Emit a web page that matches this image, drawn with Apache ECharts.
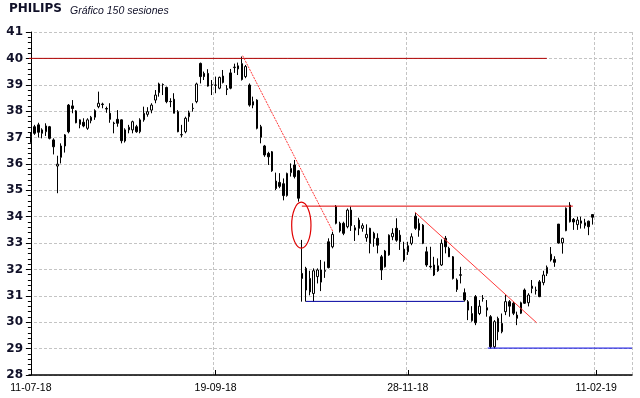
<!DOCTYPE html>
<html>
<head>
<meta charset="utf-8">
<title>PHILIPS</title>
<script src="https://cdn.jsdelivr.net/npm/echarts@6/dist/echarts.min.js"></script>
<style>
  html, body { margin: 0; padding: 0; background: #fff; }
  #chart { width: 640px; height: 398px; }
</style>
</head>
<body>
<div id="chart"></div>
<script>
// 150 sesiones, [apertura, cierre, mínimo, máximo]
const ohlc = [
  [37.03, 37.13, 36.80, 37.20], [37.41, 37.16, 37.10, 37.48], [37.48, 37.20, 37.00, 37.56],
  [37.16, 37.29, 36.97, 37.35], [37.22, 37.44, 37.06, 37.54], [37.41, 36.97, 36.93, 37.44],
  [36.91, 36.65, 36.36, 36.97], [35.92, 35.99, 34.89, 36.31], [36.25, 36.68, 36.02, 36.78],
  [36.68, 37.10, 36.43, 37.13], [38.23, 37.22, 37.16, 38.27], [38.20, 38.10, 37.92, 38.42],
  [38.01, 37.56, 37.54, 38.04], [37.67, 37.50, 37.35, 37.69], [37.58, 37.44, 37.39, 37.73],
  [37.35, 37.67, 37.29, 37.73], [37.64, 37.77, 37.54, 37.82], [37.77, 38.02, 37.67, 38.07],
  [38.17, 38.30, 38.11, 38.74], [38.27, 38.25, 38.11, 38.32], [38.10, 38.08, 37.94, 38.17],
  [37.92, 37.69, 37.56, 38.30], [37.55, 37.53, 37.16, 37.60], [37.69, 37.54, 37.41, 38.04],
  [37.67, 36.88, 36.78, 37.69], [36.87, 37.29, 36.81, 37.35], [37.29, 37.39, 37.16, 37.48],
  [37.29, 37.60, 37.16, 37.64], [37.41, 37.22, 37.18, 37.48], [37.22, 37.67, 37.16, 37.73],
  [37.67, 37.92, 37.60, 38.17], [37.88, 37.98, 37.79, 38.15], [38.04, 38.23, 37.92, 38.30],
  [38.42, 38.61, 38.30, 38.80], [38.70, 39.03, 38.55, 39.08], [39.01, 39.00, 38.61, 39.05],
  [38.90, 38.36, 38.30, 38.93], [38.37, 38.36, 38.15, 38.49], [38.45, 37.92, 37.92, 38.68],
  [37.98, 37.22, 37.20, 38.04], [37.11, 37.10, 37.01, 37.48], [37.22, 37.73, 37.16, 37.79],
  [37.79, 37.94, 37.60, 38.02], [38.10, 38.11, 37.98, 38.30], [38.36, 39.03, 38.30, 39.08],
  [39.81, 39.31, 39.05, 39.84], [39.43, 39.31, 39.18, 39.50], [39.43, 38.95, 38.93, 39.59],
  [39.00, 38.99, 38.61, 39.18], [38.98, 38.99, 38.68, 39.31], [38.87, 39.28, 38.83, 39.31],
  [39.33, 39.09, 39.05, 39.56], [38.85, 38.82, 38.61, 38.99], [39.45, 38.87, 38.83, 39.60],
  [39.65, 39.67, 39.45, 39.80], [39.60, 39.72, 39.37, 39.84], [39.80, 39.20, 39.16, 40.07],
  [39.31, 39.69, 39.25, 39.75], [38.99, 38.23, 38.17, 39.05], [38.23, 38.36, 38.11, 38.55],
  [38.42, 37.35, 37.31, 38.45], [37.41, 37.01, 36.78, 37.48], [36.68, 36.34, 36.27, 36.72],
  [36.40, 36.27, 35.96, 36.46], [36.46, 35.74, 35.70, 36.49], [35.35, 35.07, 35.01, 35.67],
  [35.30, 35.15, 35.08, 35.65], [35.25, 34.80, 34.62, 35.45], [34.80, 35.64, 34.76, 35.67],
  [35.67, 35.83, 35.52, 36.02], [35.96, 35.52, 35.45, 36.15], [35.74, 34.70, 34.57, 35.77],
  [31.85, 31.66, 30.78, 33.12], [32.04, 31.22, 30.78, 32.10], [31.66, 31.15, 31.02, 31.95],
  [31.09, 31.95, 30.78, 32.04], [31.73, 31.98, 31.47, 32.04], [31.52, 31.98, 31.18, 32.36],
  [31.93, 31.96, 31.68, 32.30], [33.05, 32.07, 32.04, 33.18], [32.86, 33.33, 32.80, 33.43],
  [34.38, 33.75, 33.71, 34.44], [33.75, 33.46, 33.40, 33.81], [33.75, 33.37, 33.30, 33.81],
  [33.62, 34.25, 33.56, 34.31], [34.25, 33.66, 33.46, 34.38], [33.49, 33.58, 33.08, 33.68],
  [33.87, 33.56, 33.30, 33.96], [33.56, 33.66, 33.43, 33.75], [33.20, 33.33, 33.05, 33.71],
  [33.56, 32.99, 32.61, 33.58], [33.37, 33.18, 32.86, 33.43], [33.18, 32.92, 32.61, 33.37],
  [32.48, 31.98, 31.60, 32.55], [32.10, 32.70, 32.07, 32.74], [32.55, 33.30, 32.52, 33.33],
  [33.24, 33.37, 33.11, 33.56], [33.56, 33.11, 33.05, 33.94], [33.30, 33.05, 32.74, 33.49],
  [32.77, 32.36, 32.29, 33.05], [32.67, 32.90, 32.55, 33.05], [32.99, 33.24, 32.92, 33.37],
  [34.02, 33.56, 33.50, 34.15], [33.49, 33.75, 33.24, 33.93], [33.68, 32.99, 32.96, 33.72],
  [32.67, 32.17, 32.10, 32.86], [32.12, 32.10, 32.04, 32.86], [32.17, 31.79, 31.75, 32.48],
  [31.95, 32.14, 31.91, 32.42], [32.17, 32.99, 32.13, 33.14], [33.18, 32.86, 32.61, 33.27],
  [32.80, 32.48, 32.48, 32.86], [32.48, 31.66, 31.62, 32.51], [31.24, 31.60, 31.15, 31.66],
  [31.80, 31.78, 31.47, 32.10], [31.12, 30.84, 30.78, 31.28], [30.78, 30.46, 30.08, 30.84],
  [30.06, 30.33, 30.02, 30.61], [30.97, 29.98, 29.89, 31.03], [30.33, 30.61, 30.27, 30.84],
  [30.91, 30.90, 30.78, 31.03], [30.46, 30.55, 30.21, 30.84], [30.21, 29.07, 29.01, 30.27],
  [29.07, 30.02, 29.01, 30.08], [30.14, 29.64, 29.32, 30.21], [29.64, 29.96, 29.58, 30.33],
  [30.40, 30.78, 30.27, 31.03], [30.78, 30.61, 30.21, 30.84], [30.72, 30.34, 30.27, 30.78],
  [30.27, 30.15, 29.89, 30.40], [30.34, 30.74, 30.31, 30.78], [31.22, 30.72, 30.69, 31.28],
  [30.74, 31.03, 30.60, 31.10], [31.28, 31.37, 31.10, 31.60], [31.20, 31.22, 31.05, 31.35],
  [31.53, 30.97, 30.95, 31.60], [31.50, 31.79, 31.40, 31.95], [31.85, 32.08, 31.75, 32.15],
  [32.36, 32.58, 32.30, 32.85], [32.38, 32.27, 32.10, 32.50], [33.72, 33.00, 32.98, 33.72],
  [33.01, 33.18, 32.60, 33.20], [33.47, 34.32, 33.45, 34.35], [34.44, 33.81, 33.78, 34.55],
  [33.90, 33.80, 33.50, 33.95], [33.70, 33.87, 33.50, 34.00], [33.75, 33.84, 33.55, 34.00],
  [33.66, 33.77, 33.55, 33.92], [33.83, 33.62, 33.30, 33.85], [34.08, 33.98, 33.70, 34.08]
];

// eje de sesiones: 150 con datos + hueco a la derecha
const totalSlots = 160;
const sessions = [];
for (let i = 0; i < totalSlots; i++) sessions.push('s' + i);
const tickLabels = { 0: '11-07-18', 49: '19-09-18', 100: '28-11-18', 150: '11-02-19' };

// líneas de análisis, x en sesiones (fraccionales), y en euros
const resistance40 = [[-0.5, 40], [136.9, 40]];
const trendFromTop = [[56.2, 40.1], [80.2, 33.42]];
const resistance344 = [[71.9, 34.4], [143.8, 34.4]];
const trendSecond = [[101.9, 34.17], [134.2, 29.98]];
const support308 = [[73.0, 30.79], [114.9, 30.79]];
const support290 = [[121.2, 29.02], [159.5, 29.02]];
const gapMark = { x: 71.76, y: 33.68, rx: 2.56, ry: 0.87 };

const RED = '#e00000';
const BLUE = '#0000e0';
const GRID = '#c4c4c4';

function showTick(index) { return tickLabels[index] !== undefined; }

let myChart = echarts.init(document.getElementById('chart'));

function overlay(data, color, type) {
  return {
    type: 'line',
    xAxisIndex: 1,
    yAxisIndex: 0,
    data: data,
    symbol: 'none',
    silent: true,
    z: 5,
    lineStyle: { color: color, width: 1, type: type || 'solid' }
  };
}

let option = {
  animation: false,
  backgroundColor: '#ffffff',
  title: [
    {
      text: 'PHILIPS', left: 9, top: 3, padding: 0,
      textStyle: { fontFamily: 'DejaVu Sans', fontWeight: 700, fontSize: 12, color: '#101028' }
    },
    {
      text: 'Gráfico 150 sesiones', left: 70, top: 6, padding: 0,
      textStyle: { fontFamily: 'Liberation Sans', fontStyle: 'italic', fontWeight: 'normal', fontSize: 10.5, color: '#101028' }
    }
  ],
  grid: { left: 29, right: 8, top: 32, bottom: 23, containLabel: false },
  xAxis: [
    {
      type: 'category',
      data: sessions,
      boundaryGap: true,
      axisLine: { onZero: false, lineStyle: { color: '#000', width: 1.5 } },
      axisTick: { show: true, inside: true, length: 5, alignWithLabel: true, interval: (i) => i > 0 && showTick(i), lineStyle: { color: '#000' } },
      axisLabel: {
        interval: (i) => showTick(i),
        formatter: (v, i) => tickLabels[i] || '',
        fontFamily: 'Liberation Sans', fontSize: 10.5, color: '#000', margin: 8
      },
      splitLine: { show: true, interval: (i) => i > 0 && showTick(i), lineStyle: { color: GRID, type: [3, 2] } }
    },
    {
      type: 'value',
      min: -0.5,
      max: totalSlots - 0.5,
      show: false
    }
  ],
  yAxis: {
    type: 'value',
    min: 28,
    max: 41,
    interval: 1,
    axisLine: { show: true, lineStyle: { color: '#000', width: 1 } },
    axisTick: { show: true, length: 5, lineStyle: { color: '#000' } },
    minorTick: { show: true, splitNumber: 5, length: 3, lineStyle: { color: '#000' } },
    axisLabel: { fontFamily: 'DejaVu Sans', fontWeight: 700, fontSize: 12, color: '#101028', margin: 6 },
    splitLine: { show: true, lineStyle: { color: GRID, type: [3, 2] } }
  },
  series: [
    {
      type: 'candlestick',
      xAxisIndex: 0,
      yAxisIndex: 0,
      data: ohlc,
      barWidth: 2,
      silent: true,
      z: 3,
      itemStyle: {
        color: '#ffffff',
        color0: '#000000',
        borderColor: '#000000',
        borderColor0: '#000000',
        borderWidth: 1
      }
    },
    overlay(resistance40, '#b00000'),
    overlay(trendFromTop, '#ff3a3a', [2, 1]),
    overlay(resistance344, RED),
    overlay(trendSecond, '#ff3a3a'),
    overlay(support308, '#0000a0'),
    overlay(support290, BLUE)
  ]
};

myChart.setOption(option, true);

// elipse sobre el hueco, situada con la escala del gráfico
let c = myChart.convertToPixel({ seriesIndex: 1 }, [gapMark.x, gapMark.y]);
let e = myChart.convertToPixel({ seriesIndex: 1 }, [gapMark.x + gapMark.rx, gapMark.y + gapMark.ry]);
myChart.setOption({
  graphic: [{
    type: 'ellipse',
    silent: true,
    z: 10,
    shape: { cx: c[0], cy: c[1], rx: Math.abs(e[0] - c[0]), ry: Math.abs(c[1] - e[1]) },
    style: { fill: 'none', stroke: RED, lineWidth: 1.2 }
  }]
});

window.addEventListener('resize', () => {
  myChart.resize();
});
</script>
</body>
</html>
